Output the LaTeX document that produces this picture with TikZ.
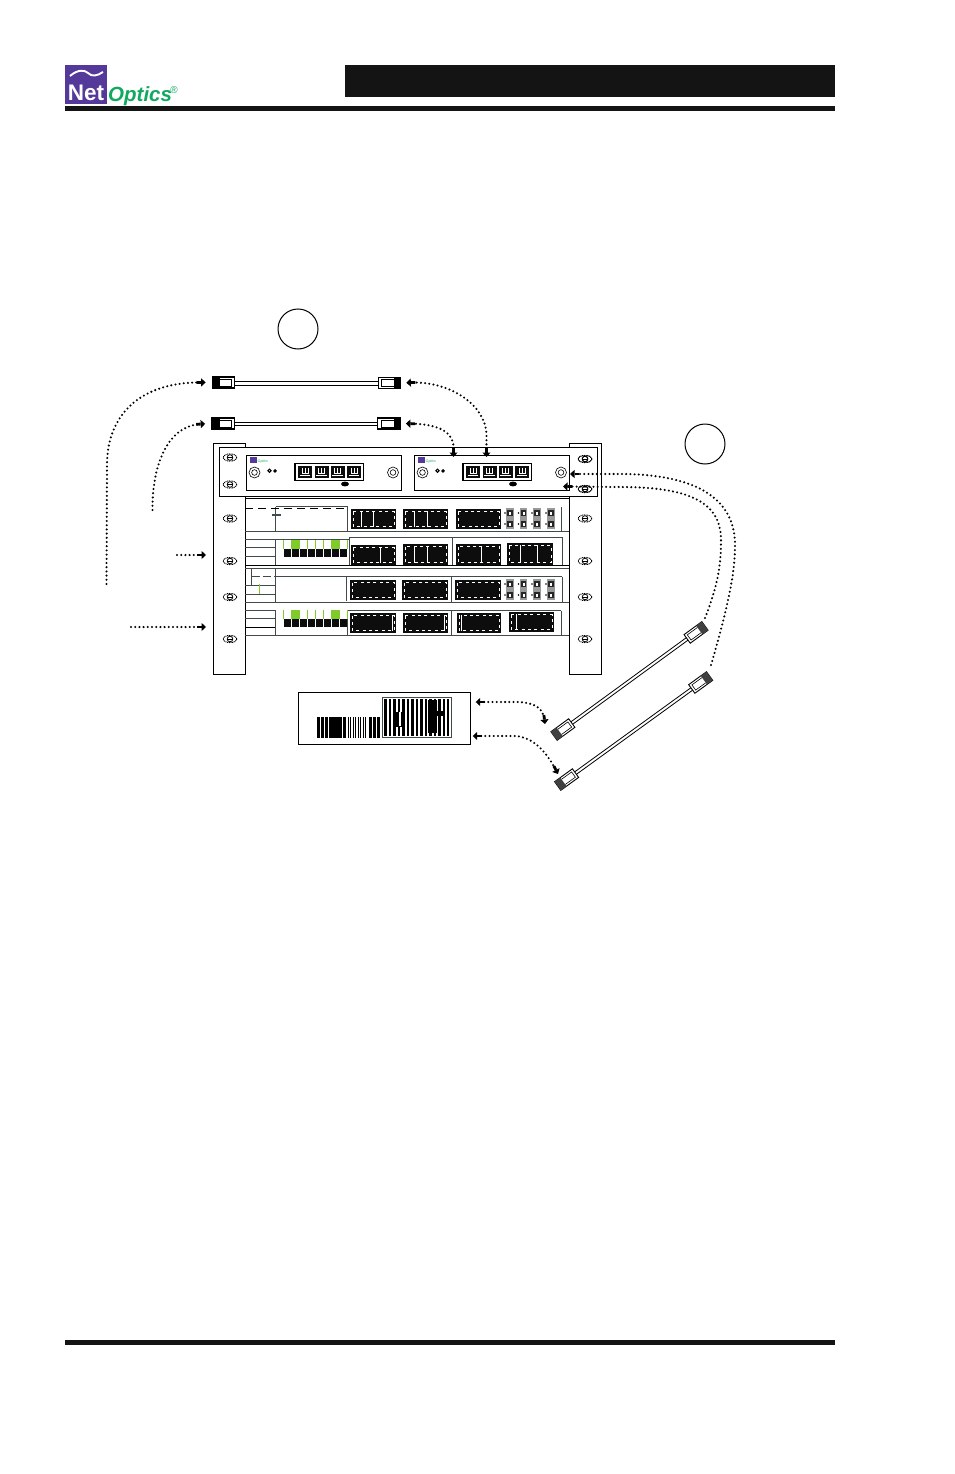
\documentclass[tikz,border=0pt]{standalone}
\usepackage{xcolor}
\usepackage{fontspec}
\setmainfont{Liberation Sans}
\usetikzlibrary{arrows.meta}

\definecolor{logopurple}{HTML}{54399A}
\definecolor{logogreen}{HTML}{12A85F}
\definecolor{ledgreen}{HTML}{7FCB2A}
\definecolor{swline}{HTML}{3F4A4A}

\tikzset{
  rail/.style={draw=black,line width=1.3pt,fill=white},
  tray/.style={draw=black,line width=1.3pt,fill=white},
  faceplate/.style={draw=black,line width=1.1pt,fill=white},
  swrule/.style={draw=swline,line width=1pt},
  plugbox/.style={draw=black,line width=1.2pt,fill=white,minimum width=22.5pt,minimum height=11pt,inner sep=0pt},
  callout/.style={circle,draw=black,line width=1pt,minimum size=40pt,inner sep=0pt},
  dotlink/.style={line width=2.3pt,line cap=round,dash pattern=on 0pt off 4.2pt,
    arrows={-{Rectangle[length=4.5pt,width=2.8pt]Triangle[length=4.5pt,width=8pt]}}},
  dotboth/.style={line width=2.3pt,line cap=round,dash pattern=on 0pt off 4.2pt,
    arrows={{Triangle[length=4.5pt,width=8pt]Rectangle[length=4.5pt,width=2.8pt]}-{Rectangle[length=4.5pt,width=2.8pt]Triangle[length=4.5pt,width=8pt]}}}
}

% rack ear screw
\newcommand{\earscrew}[2]{
  \draw[line width=0.9pt,dash pattern=on 1pt off 0.7pt] (#1,#2) ellipse (6.8 and 3.6);
  \draw[line width=0.8pt] (#1,#2) circle (2.8);
  \draw[line width=0.5pt] (#1-3,#2) -- (#1+3,#2);
}
% black switch module, white dashes inside
\newcommand{\swmodule}[4]{
  \fill[black!95] (#1,#2) rectangle (#3,#4);
  \draw[white,line width=0.7pt,dash pattern=on 3pt off 3.4pt] (#1+2,#2+2.5) rectangle (#3-2,#4-2.5);
}
% one panel of the tap: block of four ports, two screws, leds, oval
\newcommand{\tappanel}[2]{
  \draw[line width=0.6pt] (#1+8,472.5) circle (5.5);
  \draw[line width=0.6pt] (#1+8,472.5) circle (2.8);
  \draw[line width=0.6pt] (#1+146.5,472.5) circle (5.5);
  \draw[line width=0.6pt] (#1+146.5,472.5) circle (2.8);
  \draw[line width=1pt] (#1+23,470.7) circle (1.6);
  \fill (#1+28.5,470.9) circle (1.9);
  \fill[logopurple] (#1+3.5,456.5) rectangle (#1+10.5,463);
  \node[text=logogreen,font=\fontsize{3.6}{3.6}\selectfont\itshape,inner sep=0pt,anchor=west] (#2brand) at (#1+11,461.7) {Optics};
  \draw[line width=1.1pt] (#1+48.5,463.5) rectangle (#1+117,480.5);
  \foreach \px in {51.5,68,84,100.5} {
    \fill[black!95] (#1+\px,465.8) rectangle (#1+\px+14,477.5);
    \draw[white,line width=0.6pt] (#1+\px+4,468) -- (#1+\px+4,473.5) -- (#1+\px+10,473.5) -- (#1+\px+10,468);
    \draw[white,line width=0.6pt] (#1+\px+1.8,475.5) -- (#1+\px+12.2,475.5) (#1+\px+7,468) -- (#1+\px+7,473.5);
  }
  \fill (#1+98.5,484) ellipse (4 and 2.4);
}
% column of four fibre ports
\newcommand{\fibrerow}[1]{
  \foreach \fx in {510,523.5,537,551} {
    \fill[black!40] (\fx-3.8,#1) rectangle (\fx+3.8,#1+21);
    \fill[black!85] (\fx-2.6,#1+2) rectangle (\fx+2.6,#1+8);
    \fill[black!85] (\fx-2.6,#1+13) rectangle (\fx+2.6,#1+19);
    \fill[white] (\fx-1,#1+3.5) rectangle (\fx+1,#1+6.5);
    \fill[white] (\fx-1,#1+14.5) rectangle (\fx+1,#1+17.5);
    \fill (\fx-5,#1+5) circle (0.8) (\fx-5,#1+16) circle (0.8);
  }
}
% row of led cells, green on top of black
\newcommand{\ledrow}[1]{
  \foreach \lx in {284,292,300,308,316,324,332,340}
    \fill[black!95] (\lx,#1+9) rectangle (\lx+7.2,#1+17);
  \fill[ledgreen] (291,#1) rectangle (300,#1+8.5);
  \fill[ledgreen] (331,#1) rectangle (340,#1+8.5);
  \foreach \lx in {283,307,315,323,347}
    \fill[ledgreen] (\lx-0.4,#1) rectangle (\lx+0.4,#1+8.5);
}
% slanted patch cable, lying along its own x axis
\newcommand{\slantcable}[4]{
  \begin{scope}[shift={(#1,#2)},rotate=#3]
    \draw[line width=0.8pt] (22,-1.5) -- (#4-22,-1.5) (22,1.5) -- (#4-22,1.5);
    \draw[line width=0.9pt,fill=white] (0,-5.3) rectangle (22,5.3);
    \draw[line width=0.9pt,fill=white] (#4-22,-5.3) rectangle (#4,5.3);
    \draw[line width=0.6pt] (7,-3.2) -- (19.5,-3.2) -- (19.5,3.2) -- (7,3.2);
    \draw[line width=0.6pt] (#4-7,-3.2) -- (#4-19.5,-3.2) -- (#4-19.5,3.2) -- (#4-7,3.2);
    \fill[black!75] (0,-5.3) rectangle (7,5.3);
    \fill[black!75] (#4-7,-5.3) rectangle (#4,5.3);
  \end{scope}
}

\begin{document}
\begin{tikzpicture}[x=1pt,y=-1pt]
  \useasboundingbox (0,0) rectangle (954,1474);
  % page furniture
  \fill[black!92] (345,65) rectangle (835,97);
  \fill[black!92] (65,106) rectangle (835,111);
  \fill[black!92] (65,1340) rectangle (835,1345);
  \fill[logopurple] (65,65) rectangle (107,104);
  \draw[white,line width=1.9pt] (70,76) .. controls (78,69) and (85,70) .. (88,73) .. controls (92,77) and (97,76) .. (103,72);
  \node[text=white,font=\fontsize{22.5}{22.5}\selectfont\bfseries,inner sep=0pt] (logonet) at (86,92.5) {Net};
  \node[text=logogreen,font=\fontsize{20.5}{20.5}\selectfont\bfseries\itshape,inner sep=0pt,anchor=west] (logooptics) at (108,96) {Optics};
  \node[text=logogreen,font=\fontsize{10}{10}\selectfont,inner sep=0pt] (logoreg) at (174,90) {®};

  % callouts
  \node[callout] (calloutA) at (298,329) {};
  \node[callout] (calloutB) at (705,444) {};

  % rack rails
  \node[rail,anchor=north west,minimum width=31.5pt,minimum height=231pt,inner sep=0pt] (railL) at (213,443) {};
  \node[rail,anchor=north west,minimum width=31.5pt,minimum height=231pt,inner sep=0pt] (railR) at (569,443) {};
  \foreach \ey in {518.5,561,597,639} {
    \earscrew{230}{\ey}
    \earscrew{585}{\ey}
  }

  % switch rows
  \draw[line width=1.3pt] (245,498.5) -- (569,498.5);
  \draw[swrule] (245,531) -- (569,531);
  \draw[swrule] (275.5,507) -- (275.5,531) (347.5,507) -- (347.5,531) (561.5,507) -- (561.5,531);
  \draw[swline,line width=0.5pt] (275.5,506.6) -- (347.5,506.6);
  \draw[line width=1pt,dash pattern=on 8pt off 5pt] (245,508.5) -- (347,508.5);
  \draw[swline,line width=1.5pt] (272,515) -- (281,515);
  \draw[swrule] (245,539) -- (349,539) (349,537) -- (562,537) (349,537) -- (349,566) (562,537) -- (562,566);
  \draw[swrule] (245,547.5) -- (275.5,547.5) (245,556.5) -- (275.5,556.5) (275.5,539) -- (275.5,566);
  \draw[swrule] (452,537) -- (452,566);
  \draw[line width=1pt] (245,565.5) -- (569,565.5);
  \draw[swrule] (245,568.5) -- (569,568.5);
  \draw[swrule] (251.5,568.5) -- (251.5,585) (275.5,576.5) -- (562,576.5);
  \draw[swrule,dash pattern=on 8pt off 3pt] (251.5,576.5) -- (275.5,576.5);
  \draw[swrule] (245,585) -- (275.5,585) (245,594) -- (275.5,594) (275.5,568.5) -- (275.5,602.5);
  \draw[swrule] (346.5,576.5) -- (346.5,601) (562,576.5) -- (562,602.5) (451,576.5) -- (451,602.5);
  \draw[ledgreen,line width=0.9pt] (259.5,584) -- (259.5,594);
  \draw[swrule,line width=1.3pt] (245,602.5) -- (569,602.5);
  \draw[swrule] (245,610.5) -- (275.5,610.5) (347.5,610.5) -- (561,610.5) (245,618.5) -- (275.5,618.5);
  \draw[line width=1pt] (245,627.5) -- (275.5,627.5);
  \draw[swrule] (245,635.5) -- (569,635.5) (275.5,610.5) -- (275.5,635.5) (347.5,610.5) -- (347.5,635.5) (451.5,610.5) -- (451.5,635.5) (561,610.5) -- (561,635.5);
  \swmodule{351}{509}{396}{529}
  \swmodule{403}{509}{448}{529}
  \swmodule{456}{509}{501}{529}
  \fibrerow{508}
  \swmodule{351}{545}{396}{565}
  \swmodule{403}{544}{448}{565}
  \swmodule{456}{544}{501}{565}
  \swmodule{507}{543}{553}{565}
  \ledrow{540}
  \swmodule{350}{580}{396}{600}
  \swmodule{402}{580}{448}{600}
  \swmodule{455}{580}{501}{600}
  \fibrerow{579}
  \ledrow{610}
  \swmodule{350}{613}{396}{633}
  \swmodule{403}{613}{448}{633}
  \swmodule{457}{613}{501}{633}
  \swmodule{509}{612}{554}{632}
  % white bars inside some modules
  \draw[white,line width=0.7pt] (361,511) -- (361,527) (373,511) -- (373,527) (414,511) -- (414,527) (427,511) -- (427,527) (380,547) -- (380,563) (414,546) -- (414,563) (427,546) -- (427,563) (481,546) -- (481,563) (520,545) -- (520,563) (537,545) -- (537,563) (392,615) -- (392,631) (444,615) -- (444,631) (461,615) -- (461,631) (516,614) -- (516,630);

  % tap tray, on top of the rails
  \node[tray,anchor=north west,minimum width=377.5pt,minimum height=49pt,inner sep=0pt] (tapTray) at (219,447) {};
  \foreach \ey in {457.5,484.5} \earscrew{230}{\ey}
  \foreach \ey in {459,489} \earscrew{585}{\ey}
  \node[faceplate,anchor=north west,minimum width=154.5pt,minimum height=34.5pt,inner sep=0pt] (panelA) at (246,455) {};
  \node[faceplate,anchor=north west,minimum width=154.5pt,minimum height=34.5pt,inner sep=0pt] (panelB) at (414,455) {};
  \tappanel{246.5}{panelA}
  \tappanel{414.5}{panelB}

  % short patch cables
  \draw[line width=1pt] (234,381.5) -- (378,381.5) (234,385) -- (378,385);
  \draw[line width=1pt] (234,422) -- (378,422) (234,425.5) -- (378,425.5);
  \node[plugbox] (plugAL) at (223.5,382.5) {};
  \node[plugbox] (plugAR) at (389.5,383) {};
  \node[plugbox] (plugBL) at (223,423.5) {};
  \node[plugbox] (plugBR) at (389,423.5) {};
  \foreach \py in {377,418} {
    \fill[black] (212,\py) rectangle (219.5,\py+11);
    \fill[black] (393.5,\py) rectangle (401,\py+11);
    \draw[line width=0.9pt] (219,\py+2) -- (231.5,\py+2) -- (231.5,\py+9) -- (219,\py+9);
    \draw[line width=0.9pt] (394,\py+2) -- (381,\py+2) -- (381,\py+9) -- (394,\py+9);
  }

  % long patch cables
  \slantcable{554}{736}{36.1}{186.8}
  \slantcable{557.7}{786}{35.9}{187.5}

  % rear label with module
  \node[draw=black,line width=1.2pt,anchor=north west,minimum width=171.5pt,minimum height=52pt,inner sep=0pt] (rearBox) at (298,692) {};
  \foreach \bx in {317,321,325,343,369,373,377}
    \fill (\bx,717) rectangle (\bx+2.6,737.5);
  \fill (329,717) rectangle (342,737.5);
  \foreach \bx in {348,350.5,353,355.5,358,360.5,363,365.5}
    \draw[line width=0.6pt] (\bx,717) -- (\bx,737.5);
  \draw[draw=swline,line width=1pt] (382,697) rectangle (451,737);
  \foreach \bx in {384,388.5,393,397.5,402,406.5,411,415.5,420,424.5,429,433.5,438,442.5,446.5}
    \fill (\bx,698.5) rectangle (\bx+2.6,735.5);
  \fill (396,712) rectangle (404,727);
  \fill (428,700) rectangle (437,733);
  \fill (437,711) rectangle (444,716);
  \fill[white] (398.5,712) rectangle (401,726);

  % dotted leads
  \coordinate (farA) at (106.5,584);
  \coordinate (farB) at (152.5,510);
  \coordinate (farC) at (177,555);
  \coordinate (farD) at (131,627);
  \coordinate (portA) at (453.5,457);
  \coordinate (portB) at (486.5,457);
  \coordinate (portC) at (570,474);
  \coordinate (portD) at (563,486.5);
  \coordinate (endA) at (711,665);
  \coordinate (endB) at (705,618);
  \coordinate (tipA) at (545,724);
  \coordinate (tipB) at (558,774);
  \draw[dotlink,shorten >=6pt] (farA) -- (107,465) .. controls (107,415) and (140,382) .. (plugAL.west);
  \draw[dotlink,shorten >=6pt] (farB) .. controls (152,470) and (165,426) .. (plugBL.west);
  \draw[dotlink,shorten >=7pt] (farC) -- (farC -| railL.west);
  \draw[dotlink,shorten >=7pt] (farD) -- (farD -| railL.west);
  \draw[dotboth,shorten >=5pt] (portB) -- (486.5,435) .. controls (486,405) and (450,381) .. (plugAR.east);
  \draw[dotboth,shorten >=5pt] (portA) -- (453.5,447) .. controls (453,430) and (435,424) .. (plugBR.east);
  \draw[dotlink] (endA) .. controls (730,600) and (735,570) .. (735,545) .. controls (735,495) and (690,474) .. (620,474) -- (portC);
  \draw[dotlink] (endB) .. controls (718,585) and (721,565) .. (721,540) .. controls (721,500) and (685,487) .. (620,487) -- (portD);
  \draw[dotboth,shorten <=5pt] (rearBox.east |- 0,702) -- (515,702) .. controls (535,702) and (543,708) .. (tipA);
  \draw[dotboth,shorten <=2pt] (rearBox.east |- 0,736) -- (515,736) .. controls (535,737) and (548,755) .. (tipB);
\end{tikzpicture}
\end{document}
